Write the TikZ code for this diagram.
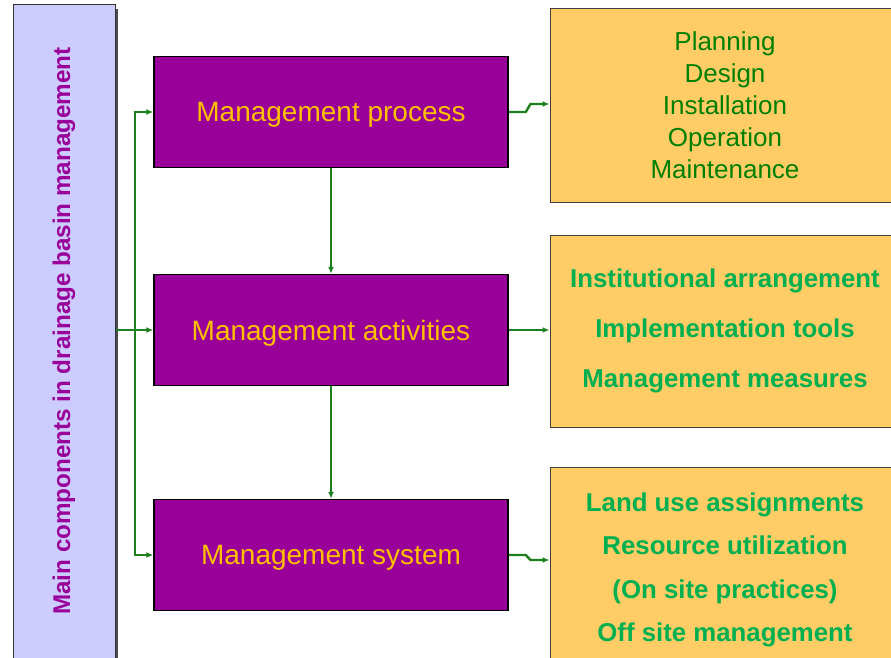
\documentclass[tikz,border=0pt]{standalone}
\usepackage{fontspec}
\setmainfont{Liberation Sans}
\usetikzlibrary{arrows.meta,calc}
\definecolor{mpurple}{HTML}{990099}
\definecolor{myellow}{HTML}{FFC000}
\definecolor{morange}{HTML}{FFCC66}
\definecolor{mlav}{HTML}{CCCCFF}
\definecolor{dgreen}{HTML}{008000}
\definecolor{bgreen}{HTML}{00B050}
\definecolor{cgreen}{HTML}{1E7F1E}
\tikzset{
  procbox/.style={draw=black, line width=1.5pt, fill=mpurple, minimum width=354pt, minimum height=111pt,
    text=myellow, font=\fontsize{28}{32}\selectfont, inner sep=0pt, text depth=0pt},
  outbox/.style={draw=black!75, line width=1pt, fill=morange, minimum width=350pt, inner sep=0pt, align=center},
  conn/.style={draw=cgreen, line width=2.4pt, -{Latex[length=7pt,width=6pt]}},
}
\begin{document}
\begin{tikzpicture}[x=1pt,y=-1pt]
\useasboundingbox (0,0) rectangle (891,657);
\clip (0,0) rectangle (891,657);
\fill[white] (0,0) rectangle (891,657);
% left box with shadow
\fill[black!70] (17,9) rectangle (118,670);
\node[draw=black!80, line width=1pt, fill=mlav, minimum width=102pt, minimum height=665pt, inner sep=0pt] (main) at (64,337) {};
\node[rotate=90, text=mpurple, font=\bfseries\fontsize{24.2}{28}\selectfont] (maintext) at (64,331) {Main components in drainage basin management};
% purple boxes
\node[procbox] (top) at (331,112) {Management process};
\node[procbox] (mid) at (331,330) {Management activities};
\node[procbox] (bot) at (331,555) {Management system};
% right boxes
\node[outbox, minimum height=194pt, text=dgreen, font=\fontsize{26}{32}\selectfont] (r1) at (725,105)
  {Planning\\Design\\Installation\\Operation\\Maintenance};
\node[outbox, minimum height=192pt, text=bgreen, font=\bfseries\fontsize{25.8}{50}\selectfont] (r2) at (725,331)
  {Institutional arrangement\\Implementation tools\\Management measures};
\node[outbox, minimum height=210pt] (r3) at (725,572) {};
\node[text=bgreen, font=\bfseries\fontsize{25.8}{43.5}\selectfont, align=center] (r3text) at (725,570)
  {Land use assignments\\Resource utilization\\(On site practices)\\Off site management};
% connectors
\coordinate (bus) at (135,330);
\draw[conn] (main.east |- mid.west) -- (mid.west);
\draw[conn] (bus) |- (top.west);
\draw[conn] (bus) |- (bot.west);
\draw[conn] (top.south) -- (mid.north);
\draw[conn] (mid.south) -- (bot.north);
\draw[conn] (top.east) -- ++(17,0) -- ([xshift=-19pt,yshift=1pt]r1.west) -- ([yshift=1pt]r1.west);
\draw[conn] (mid.east) -- (mid.east -| r2.west);
\draw[conn] (bot.east) -- ++(17,0) -- ([xshift=-19pt,yshift=-5pt]bot.east -| r3.west) -- ([yshift=-5pt]bot.east -| r3.west);
\end{tikzpicture}
\end{document}
